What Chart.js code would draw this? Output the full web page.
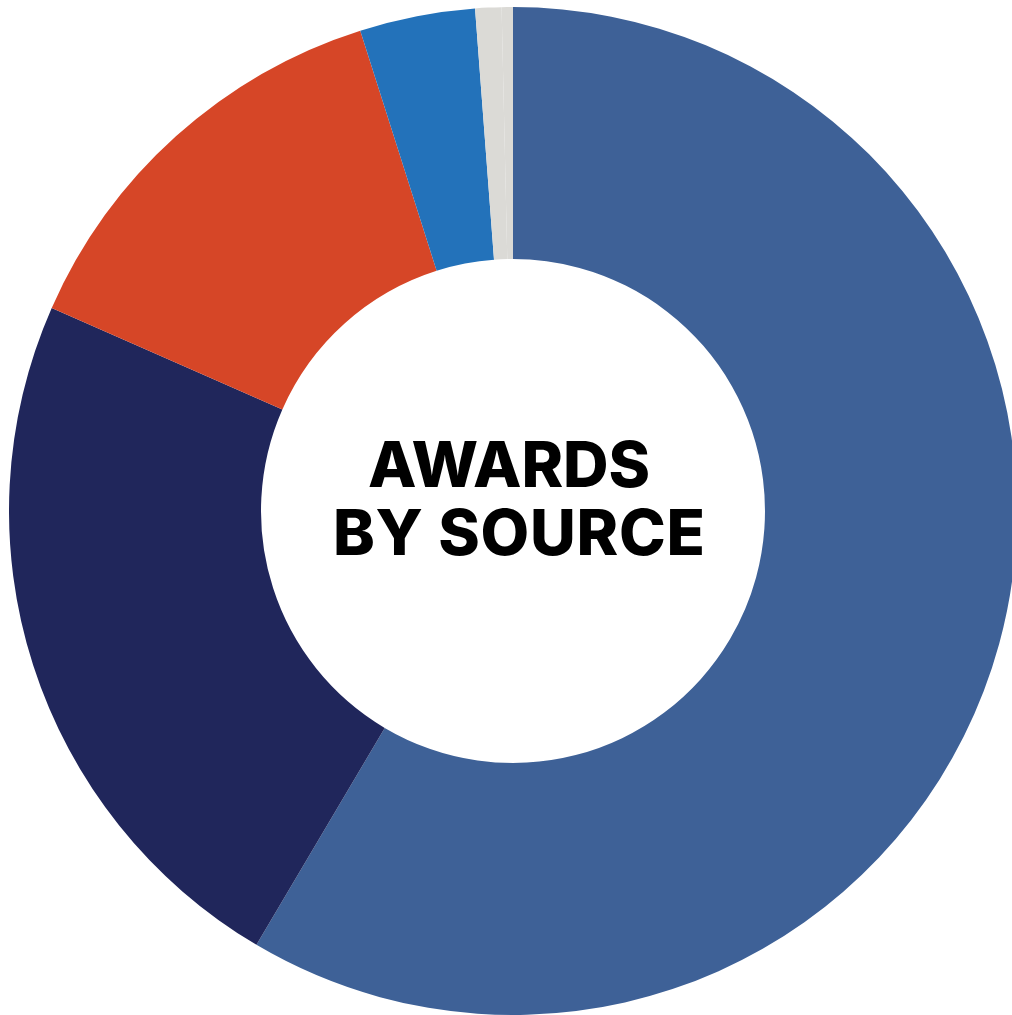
<!DOCTYPE html>
<html>
<head>
<meta charset="utf-8">
<title>Awards by Source</title>
<script src="https://cdn.jsdelivr.net/npm/chart.js@4.4.1/dist/chart.umd.min.js"></script>
<style>
    html, body {
        margin: 0;
        padding: 0;
        width: 1012px;
        height: 1015px;
        overflow: hidden;
        background: #ffffff;
    }
    #wrap {
        position: absolute;
        left: 9px;
        top: 7px;
        width: 1008px;
        height: 1008px;
    }
</style>
</head>
<body>
<div id="wrap">
    <canvas id="awardsChart" width="1008" height="1008"></canvas>
</div>
<script>
// data (shares, clockwise from 12 o'clock)
const sources = ["Source A", "Source B", "Source C", "Source D", "Source E", "Source F"];
const shares = [58.5, 23.1, 13.5, 3.7, 0.84, 0.36];
const colors = ["#3e6197", "#20265b", "#d64627", "#2372ba", "#dbdad6", "#dbdad6"];
const titleLines = ["AWARDS", "BY SOURCE"];

// texto no centro do donut
const centerText = {
    id: 'centerText',
    afterDraw(chart) {
        const arc = chart.getDatasetMeta(0).data[0];
        if (!arc) return;
        const ctx = chart.ctx;
        const cx = arc.x;
        const cy = arc.y;
        const targets = [282, 372];   // largura das linhas
        ctx.save();
        ctx.fillStyle = "#000000";
        ctx.textAlign = "left";
        ctx.textBaseline = "alphabetic";
        ctx.font = "800 63px Inter";
        titleLines.forEach((line, i) => {
            ctx.letterSpacing = "0px";
            var w = ctx.measureText(line).width;
            var sp = (targets[i] - w) / (line.length - 1);
            ctx.letterSpacing = sp + "px";
            var shift = i == 0 ? -4 : 6;
            var x = cx - targets[i] / 2 + shift;
            var y = cy + (i == 0 ? -24 : 44);
            ctx.fillText(line, x, y);
        });
        ctx.restore();
    }
};

var ctx = document.getElementById('awardsChart').getContext('2d');
new Chart(ctx, {
    type: 'doughnut',
    data: {
        labels: sources,
        datasets: [{
            data: shares,
            backgroundColor: colors,
            borderWidth: 0
        }]
    },
    options: {
        responsive: false,
        animation: false,
        cutout: '50%',
        layout: { padding: 0 },
        plugins: {
            legend: { display: false },
            tooltip: { enabled: false }
        }
    },
    plugins: [centerText]
});
</script>
</body>
</html>
